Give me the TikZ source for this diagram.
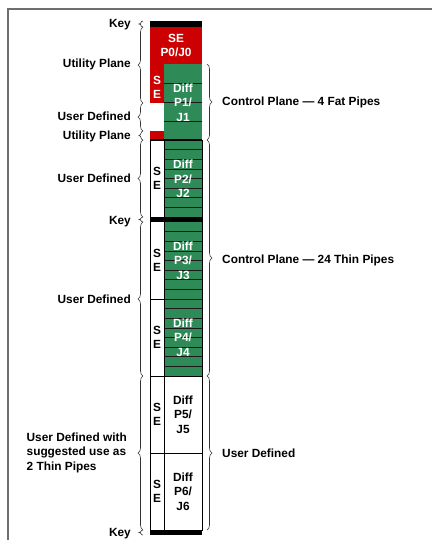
\documentclass[tikz,border=0pt]{standalone}
\usepackage{fontspec}
\setmainfont{Liberation Sans}
\usetikzlibrary{decorations.pathreplacing}
\definecolor{pipered}{RGB}{204,0,0}
\definecolor{pipegreen}{RGB}{46,139,87}
\definecolor{framegray}{RGB}{110,110,110}
\begin{document}
\begin{tikzpicture}[x=1bp,y=-1bp,
  lbl/.style={font=\bfseries\fontsize{11.9}{14.5}\selectfont, inner sep=0pt},
  wlbl/.style={lbl, text=white, align=center},
  blbl/.style={lbl, text=black, align=center},
  leftlbl/.style={lbl, anchor=base east},
  rightlbl/.style={lbl, anchor=base west},
  brc/.style={draw=black!80, line width=0.6bp, decorate, decoration={brace, amplitude=5bp}},
  keybrc/.style={draw=black!80, line width=0.6bp, decorate, decoration={brace, amplitude=4bp}},
  sep/.style={draw=black!90, line width=0.6bp},
  outline/.style={draw=black, line width=0.7bp},
]
\useasboundingbox (0,0) rectangle (431,540);
% frame
\draw[framegray, line width=1.3bp] (8,560) -- (8,9) -- (450,9);

% ---------- column fills ----------
\fill[pipered] (150,27) rectangle (202,64);
\fill[pipered] (150,64) rectangle (164,103);
\fill[white] (150,103) rectangle (164,131);
\fill[pipered] (150,131) rectangle (164,140);
\fill[pipegreen] (164,64) rectangle (202,376);

% fat pipe separators
\foreach \k in {1,2,3} { \draw[sep] (164,64+\k*19) -- (202,64+\k*19); }
% thin pipe separators
\foreach \k in {1,...,7} { \draw[sep] (164,140+\k*9.625) -- (202,140+\k*9.625); }
\foreach \k in {1,...,15} { \draw[sep] (164,222+\k*9.625) -- (202,222+\k*9.625); }

% outlines
\draw[outline] (150,140) rectangle (202,530);
\draw[outline] (164,140) -- (164,530);
\draw[outline] (150,299) -- (164,299);
\draw[outline] (150,376) -- (202,376);
\draw[outline] (150,453) -- (202,453);
\draw[black, line width=1.6bp] (150,140) -- (202,140);

% keys
\fill[black] (150,21) rectangle (202,27);
\fill[black] (150,217) rectangle (202,222);
\fill[black] (150,530) rectangle (202,535);

% ---------- column texts ----------
\node[wlbl] (p0) at (176,45.5) {SE\\P0/J0};
\node[wlbl] (se1) at (157,87.5) {S\\E};
\node[wlbl] (p1) at (183,102.5) {Diff\\P1/\\J1};
\node[blbl] (se2) at (157,178.5) {S\\E};
\node[wlbl] (p2) at (183,179) {Diff\\P2/\\J2};
\node[blbl] (se3) at (157,260.5) {S\\E};
\node[wlbl] (p3) at (183,260.5) {Diff\\P3/\\J3};
\node[blbl] (se4) at (157,337.5) {S\\E};
\node[wlbl] (p4) at (183,337.5) {Diff\\P4/\\J4};
\node[blbl] (se5) at (157,414.5) {S\\E};
\node[blbl] (p5) at (183,414.5) {Diff\\P5/\\J5};
\node[blbl] (se6) at (157,491.5) {S\\E};
\node[blbl] (p6) at (183,491.5) {Diff\\P6/\\J6};

% ---------- left braces ----------
\draw[keybrc] (143,27) -- (143,21);
\draw[brc] (143,103) -- (143,27);
\draw[brc] (143,131) -- (143,103);
\draw[keybrc] (143,140) -- (143,131);
\draw[brc] (143,217) -- (143,140);
\draw[keybrc] (143,222) -- (143,217);
\draw[brc] (143,376) -- (143,222);
\draw[brc] (143,530) -- (143,376);
\draw[keybrc] (143,535) -- (143,530);

% ---------- right braces ----------
\draw[brc] (207,64) -- (207,140);
\draw[brc] (207,140) -- (207,376);
\draw[brc] (207,376) -- (207,530);

% ---------- left labels ----------
\node[leftlbl] (k1) at (131,28) {Key};
\node[leftlbl] (u1) at (131,68) {Utility Plane};
\node[leftlbl] (d1) at (131,121) {User Defined};
\node[leftlbl] (u2) at (131,140) {Utility Plane};
\node[leftlbl] (d2) at (131,183) {User Defined};
\node[leftlbl] (k2) at (131,224) {Key};
\node[leftlbl] (d3) at (131,303) {User Defined};
\node[lbl, anchor=east, align=left] (d4) at (127,452.5) {User Defined with\\suggested use as\\2 Thin Pipes};
\node[leftlbl] (k3) at (131,536) {Key};

% ---------- right labels ----------
\node[rightlbl] (c1) at (222,106) {Control Plane — 4 Fat Pipes};
\node[rightlbl] (c2) at (222,263) {Control Plane — 24 Thin Pipes};
\node[rightlbl] (c3) at (222,457) {User Defined};
\end{tikzpicture}
\end{document}
